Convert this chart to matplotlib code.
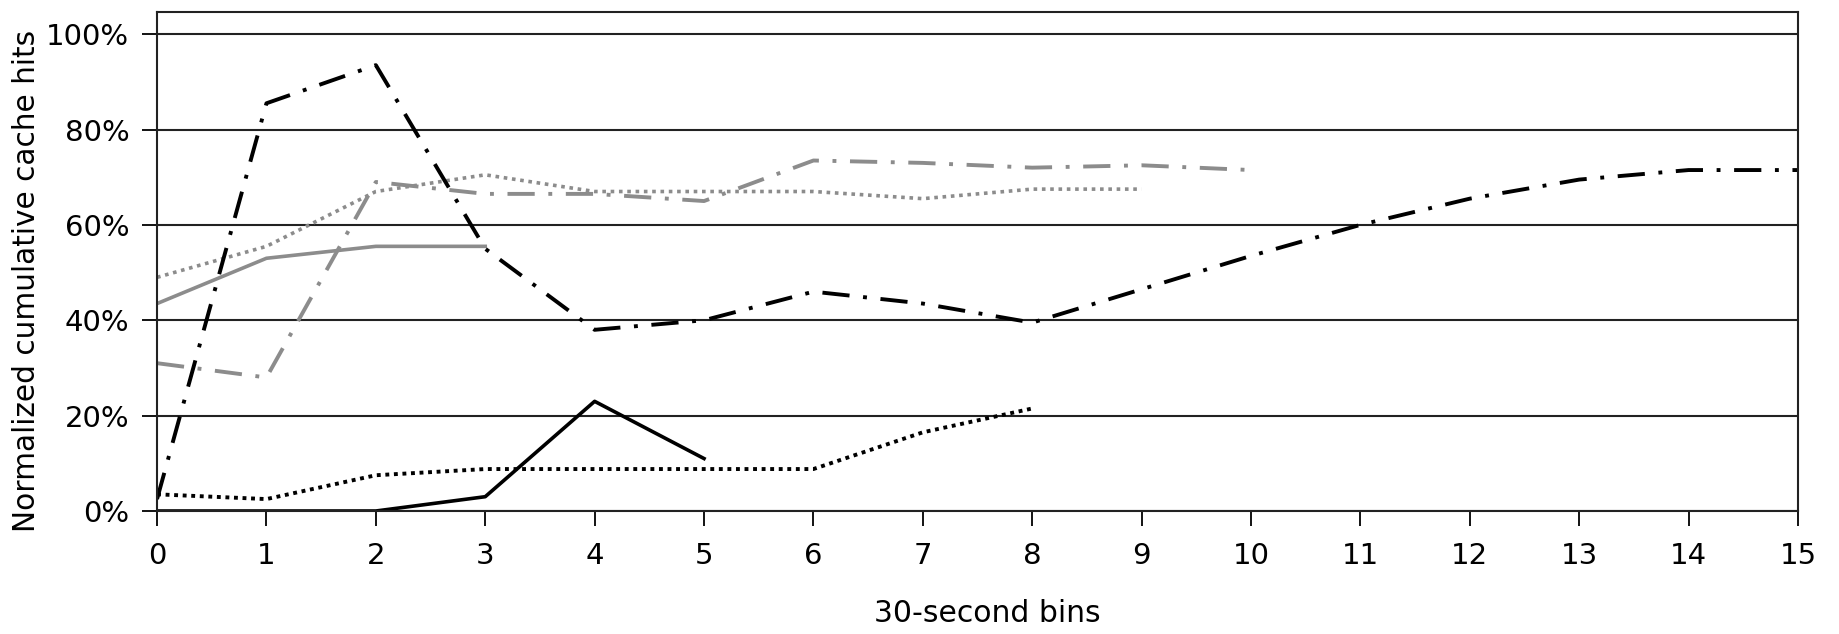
import numpy as np
import matplotlib
matplotlib.use("Agg")
import matplotlib.pyplot as plt
from matplotlib.ticker import PercentFormatter

# values (percent of hits per 30-second bin)
bins_long = list(range(16))
black_dashdot = [2.5, 85.5, 93.5, 55, 38, 40, 46, 43.5, 39.5, 46.5, 53.5, 60, 65.5, 69.5, 71.5, 71.5]

bins_gray_dd = list(range(11))
gray_dashdot = [31, 28, 69, 66.5, 66.5, 65, 73.5, 73, 72, 72.5, 71.5]

bins_gray_dot = list(range(10))
gray_dotted = [49, 55.5, 67, 70.5, 67, 67, 67, 65.5, 67.5, 67.5]

bins_gray_solid = list(range(4))
gray_solid = [43.5, 53, 55.5, 55.5]

bins_black_dot = list(range(9))
black_dotted = [3.5, 2.5, 7.5, 8.8, 8.8, 8.8, 8.8, 16.5, 21.5]

bins_black_solid = list(range(6))
black_solid = [0, 0, 0, 3, 23, 11]

xticks = list(range(16))
yticks = [0, 20, 40, 60, 80, 100]

plt.rcParams['font.family'] = ['DejaVu Sans']

fig = plt.figure(figsize=(18.39, 6.34), dpi=100)
ax = fig.add_axes([0.0854, 0.194, 0.8923, 0.7875])

gray = '#8c8c8c'
ax.plot(bins_black_solid, black_solid, color='black', lw=2.6)
ax.plot(bins_black_dot, black_dotted, color='black', lw=2.8, linestyle=(0, (1, 1.2)),
        dash_capstyle='butt')
ax.plot(bins_gray_solid, gray_solid, color=gray, lw=2.6)
ax.plot(bins_gray_dot, gray_dotted, color=gray, lw=2.6, linestyle=(0, (1, 1.3)),
        dash_capstyle='butt')
ax.plot(bins_gray_dd, gray_dashdot, color=gray, lw=2.8, linestyle=(0, (7, 3.5, 1, 3.5)),
        dash_capstyle='butt')
ax.plot(bins_long, black_dashdot, color='black', lw=2.8, linestyle=(0, (7, 3.5, 1, 3.5)),
        dash_capstyle='butt')

ax.set_xlim(0, 15)
ax.set_ylim(0, 104.7)
ax.set_xticks(xticks)
ax.set_yticks(yticks)
ax.yaxis.set_major_formatter(PercentFormatter(decimals=0))
ax.grid(axis='y', color='#222222', lw=1.5)
ax.set_axisbelow(True)
for s in ax.spines.values():
    s.set_color('#222222')
    s.set_linewidth(1.5)
ax.tick_params(axis='both', direction='out', length=11, width=1.3, labelsize=21)
ax.tick_params(axis='x', pad=11)
ax.tick_params(axis='y', pad=9)

# axis titles placed by figure position
fig.text(0.537, 0.019, '30-second bins', fontsize=21.5, ha='center', va='baseline')
fig.text(0.0144, 0.557, 'Normalized cumulative cache hits', fontsize=21.3,
         rotation=90, ha='center', va='center')

fig.savefig('out.png', dpi=100)
